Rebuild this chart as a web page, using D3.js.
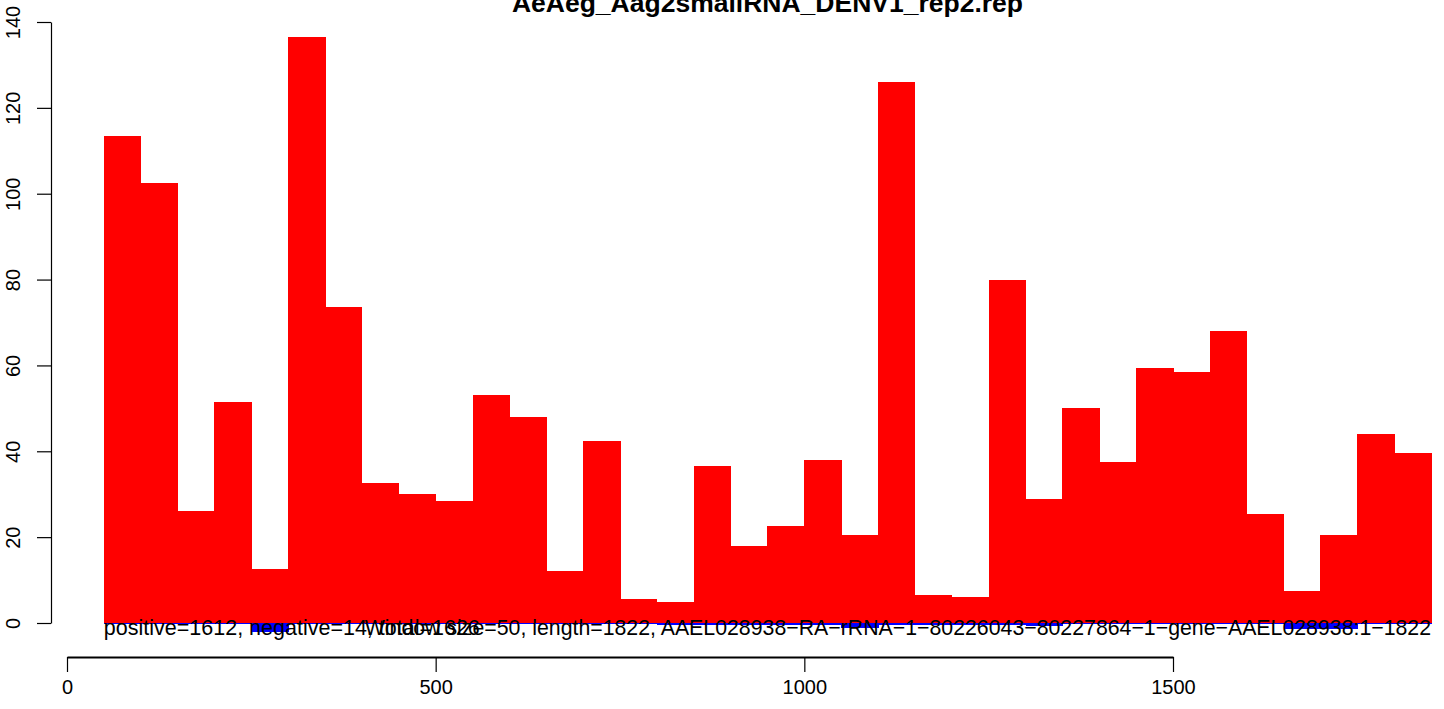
<!DOCTYPE html>
<html>
<head>
<meta charset="utf-8">
<script src="https://cdn.jsdelivr.net/npm/d3@7"></script>
<style>
  html, body { margin: 0; padding: 0; background: #fff; }
  svg { display: block; font-family: "Liberation Sans", Arial, sans-serif; }
</style>
</head>
<body>
<svg id="chart" width="1444" height="709"></svg>
<script>
// ---- data ----
const title = "AeAeg_Aag2smallRNA_DENV1_rep2.rep";
const binStarts = [50,100,150,200,250,300,350,400,450,500,550,600,650,700,750,800,850,900,950,1000,1050,1100,1150,1200,1250,1300,1350,1400,1450,1500,1550,1600,1650,1700,1750,1800];
const binWidth = 50;
const positiveValues = [113.5,102.5,26,51.5,12.5,136.5,73.5,32.5,30,28.5,53,48,12,42.5,5.5,5,36.5,18,22.5,38,20.5,126,6.5,6,80,29,50,37.5,59.5,58.5,68,25.5,7.5,20.5,44,39.5];
const negativeValues = [0,0,0,0,2.1,0,0,0,0,0,0,0,0,0,0,0.5,0.5,0.5,0.5,0.5,1.2,0.5,0.5,0.5,0.5,0.8,0,0,0,0,0,0,1.3,1.3,0,0];
const xTicks = [0,500,1000,1500];
const yTicks = [0,20,40,60,80,100,120,140];
const leftNote = "positive=1612, negative=14, total=1626";
const rightNote = "Window size=50, length=1822, AAEL028938\u2212RA\u2212rRNA\u22121\u221280226043\u221280227864\u22121\u2212gene\u2212AAEL028938:1\u22121822";

// ---- scales ----
const svg = d3.select("#chart");
const x = d3.scaleLinear().domain([0,1500]).range([67,1173]);
const y = d3.scaleLinear().domain([0,140]).range([623,22]);

// positive bars
svg.append("g").attr("shape-rendering", "crispEdges").selectAll("rect").data(binStarts).join("rect")
  .attr("x", (d) => x(d))
  .attr("width", (d) => x(d + binWidth) - x(d) + 0.5)
  .attr("y", (d,i) => y(positiveValues[i]))
  .attr("height", (d,i) => y(0) - y(positiveValues[i]))
  .attr("fill", "#ff0000");

// negative bars (blue, below zero)
svg.append("g").attr("shape-rendering", "crispEdges").selectAll("rect").data(binStarts).join("rect")
  .attr("x", (d) => x(d))
  .attr("width", (d) => x(d + binWidth) - x(d) + 0.5)
  .attr("y", y(0))
  .attr("height", (d,i) => Math.max(1, y(-negativeValues[i]) - y(0)))
  .attr("fill", "#0000ff");

// y axis
const yAxis = d3.axisLeft(y).tickValues(yTicks).tickSize(14).tickSizeOuter(0).tickPadding(6);
const gy = svg.append("g").attr("transform", "translate(51,0)").call(yAxis);
gy.select(".domain").attr("stroke", "#000").attr("stroke-width", 1.2);
gy.selectAll(".tick line").attr("stroke", "#000").attr("stroke-width", 1.2);
gy.selectAll(".tick text")
  .attr("font-size", 20).attr("fill", "#000")
  .attr("font-family", "Liberation Sans, Arial, sans-serif")
  .attr("text-anchor", "middle")
  .attr("dy", 0).attr("x", 0)
  .attr("transform", () => "translate(-31,0) rotate(-90)");

// x axis
const xAxis = d3.axisBottom(x).tickValues(xTicks).tickFormat(d3.format("d")).tickSize(15).tickSizeOuter(0).tickPadding(8);
const gx = svg.append("g").attr("transform", "translate(0,657)").call(xAxis);
gx.select(".domain").attr("stroke", "#000").attr("stroke-width", 1.8);
gx.selectAll(".tick line").attr("stroke", "#000").attr("stroke-width", 1.2);
gx.selectAll(".tick text").attr("font-size", 20).attr("fill", "#000")
  .attr("font-family", "Liberation Sans, Arial, sans-serif");

// bottom notes
svg.append("text").attr("x", x(binStarts[0])).attr("y", 635)
  .attr("font-size", 21.5).attr("fill", "#000").text(leftNote);
svg.append("text").attr("x", x(binStarts[binStarts.length-1] + binWidth)).attr("y", 635)
  .attr("text-anchor", "end").attr("font-size", 21.3).attr("fill", "#000").text(rightNote);

// title
svg.append("text").attr("x", (x(binStarts[0]) + x(binStarts[binStarts.length-1] + binWidth)) / 2).attr("y", 12)
  .attr("text-anchor", "middle").attr("font-size", 26.5).attr("font-weight", "bold")
  .attr("fill", "#000").text(title);
</script>
</body>
</html>
